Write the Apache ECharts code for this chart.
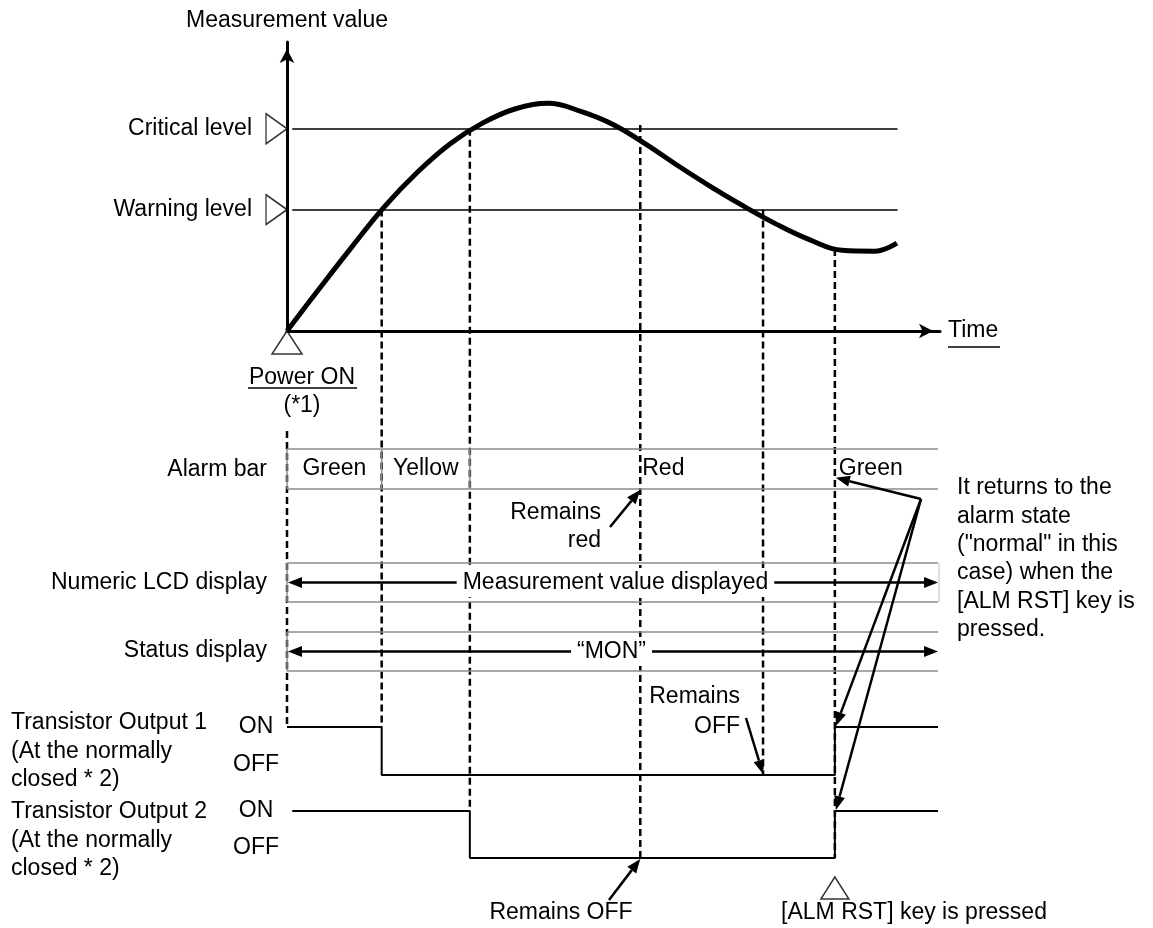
<!DOCTYPE html>
<html>
<head>
<meta charset="utf-8">
<script src="https://cdn.jsdelivr.net/npm/echarts@6/dist/echarts.min.js"></script>
<style>
    html, body { margin: 0; padding: 0; background: #fff; }
    #chart { width: 1153px; height: 928px; }
</style>
</head>
<body>
<div id="chart"></div>
<script>
var FONT = '"Liberation Sans", Arial, sans-serif';
var FS = 23;
var GRAY = '#8c8c8c';

// measurement curve, time 0..100 / value 0..100
var curveTime = [0, 5, 10, 15, 20, 25, 30, 35, 40, 45, 50, 55, 60, 65, 70, 75, 80, 85, 90, 93.4];
var curveValue = [0, 14.8, 29.3, 43.2, 55.0, 64.8, 72.0, 76.9, 78.8, 76.0, 71.4, 64.6, 57.0, 49.8, 43.1, 36.9, 31.6, 27.9, 27.6, 30.4];

var levelNames = ['Critical level', 'Warning level'];
var levelValues = [70, 42];
var levelSpan = [0.8, 93.5];

// power on, warning, critical, remains red, below warning, ALM RST
var eventTimes = [0, 14.5, 28, 54.1, 72.9, 83.9];
var endTime = 99.7;

var alarmNames = ['Green', 'Yellow', 'Red', 'Green'];
var alarmStart = [0, 14.5, 28, 83.9];
var alarmEnd = [14.5, 28, 83.9, 99.7];
var alarmLabelAt = [7.25, 21.25, 54.4, 84.5];
var alarmLabelAlign = ['center', 'center', 'left', 'left'];
var alarmSep = [1, 1, 1, 0];

var rowTexts = ['Measurement value displayed', '\u201CMON\u201D'];
var rowTextAt = [50.3, 49.7];

// transistor outputs, 1 = ON, 0 = OFF
var t1Time = [0, 14.5, 83.9, 99.7];
var t1State = [1, 0, 1, 1];
var t2Time = [0.8, 28, 83.9, 99.7];
var t2State = [1, 0, 1, 1];

function zip(a, b) {
    return a.map(function (v, i) { return [v, b[i]]; });
}

var chart = echarts.init(document.getElementById('chart'));

var grids = [
    { left: 287, top: 42, width: 653, height: 289 },
    { left: 287, top: 449, width: 653, height: 40 },
    { left: 287, top: 563, width: 653, height: 39 },
    { left: 287, top: 632, width: 653, height: 39 },
    { left: 287, top: 727, width: 653, height: 48 },
    { left: 287, top: 811, width: 653, height: 47 }
];

var xAxes = grids.map(function (g, i) {
    return { gridIndex: i, type: 'value', min: 0, max: 100, show: false };
});
xAxes[0] = {
    gridIndex: 0, type: 'value', min: 0, max: 100,
    name: 'Time', nameLocation: 'end', nameGap: 8,
    nameTextStyle: { color: '#000', fontSize: FS, fontFamily: FONT, padding: [10, 0, 0, 0] },
    axisLine: { show: true, lineStyle: { color: '#000', width: 3 }, symbol: ['none', 'arrow'], symbolSize: [11, 14], symbolOffset: [0, -7] },
    axisTick: { show: false }, axisLabel: { show: false }, splitLine: { show: false }
};

var yAxes = grids.map(function (g, i) {
    return { gridIndex: i, type: 'value', min: 0, max: 1, show: false };
});
yAxes[0] = {
    gridIndex: 0, type: 'value', min: 0, max: 100,
    name: 'Measurement value', nameLocation: 'end', nameGap: 10,
    nameTextStyle: { color: '#000', fontSize: FS, fontFamily: FONT },
    axisLine: { show: true, lineStyle: { color: '#000', width: 3 }, symbol: ['none', 'arrow'], symbolSize: [11, 14], symbolOffset: [0, -7] },
    axisTick: { show: false }, splitLine: { show: false },
    axisLabel: {
        customValues: levelValues, margin: 35, color: '#000', fontSize: FS, fontFamily: FONT,
        formatter: function (v) { return levelNames[levelValues.indexOf(v)]; }
    }
};
[4, 5].forEach(function (i) {
    yAxes[i] = {
        gridIndex: i, type: 'value', min: 0, max: 1,
        axisLine: { show: false }, axisTick: { show: false }, splitLine: { show: false },
        axisLabel: {
            customValues: [0, 1], margin: 31, align: 'center', color: '#000', fontSize: FS, fontFamily: FONT,
            formatter: function (v) { return v === 1 ? 'ON' : '{off|OFF}'; },
            rich: { off: { fontSize: FS, fontFamily: FONT, color: '#000', padding: [0, 0, 20, 0] } }
        }
    };
});

function lineEl(x1, y1, x2, y2, color, w) {
    return { type: 'line', shape: { x1: x1, y1: y1, x2: x2, y2: y2 }, style: { stroke: color, lineWidth: w } };
}

function headEl(x, y, dir) {
    // dir -1 points left, 1 points right
    return {
        type: 'polygon',
        shape: { points: [[x, y], [x - dir * 14, y - 5.5], [x - dir * 14, y + 5.5]] },
        style: { fill: '#000' }
    };
}

function renderAlarm(params, api) {
    var i = params.dataIndex;
    var a = api.coord([api.value(0), 1]);
    var b = api.coord([api.value(1), 0]);
    var l = api.coord([api.value(2), 0.5]);
    var kids = [
        lineEl(a[0], a[1], b[0], a[1], GRAY, 1.5),
        lineEl(a[0], b[1], b[0], b[1], GRAY, 1.5),
        {
            type: 'text', x: l[0], y: l[1], z2: 5,
            style: { text: alarmNames[i], align: alarmLabelAlign[i], verticalAlign: 'middle', font: FS + 'px ' + FONT, fill: '#000' }
        }
    ];
    if (alarmSep[i]) kids.push(lineEl(a[0], a[1], a[0], b[1], GRAY, 1.5));
    return { type: 'group', children: kids };
}

function renderRow(params, api) {
    var i = api.value(3);
    var a = api.coord([api.value(0), 1]);
    var b = api.coord([api.value(1), 0]);
    var m = api.coord([api.value(2), 0.5]);
    var kids = [
        lineEl(a[0], a[1], b[0], a[1], GRAY, 1.5),
        lineEl(a[0], b[1], b[0], b[1], GRAY, 1.5),
        lineEl(a[0], a[1], a[0], b[1], GRAY, 1.5),
        lineEl(a[0] + 8, m[1], b[0] - 8, m[1], '#000', 2.5),
        headEl(a[0] + 1, m[1], -1),
        headEl(b[0], m[1], 1),
        {
            type: 'text', x: m[0], y: m[1], z2: 5,
            style: {
                text: rowTexts[i], align: 'center', verticalAlign: 'middle', font: FS + 'px ' + FONT,
                fill: '#000', backgroundColor: '#fff', padding: [3, 6]
            }
        }
    ];
    if (i === 0) kids.push(lineEl(b[0] + 1, a[1], b[0] + 1, b[1], '#d4d4d4', 1.5));
    return { type: 'group', children: kids };
}

var hollow = { color: '#fff', borderColor: '#000', borderWidth: 1.5 };

var option = {
    animation: false,
    grid: grids,
    xAxis: xAxes,
    yAxis: yAxes,
    series: [
        {
            type: 'line', xAxisIndex: 0, yAxisIndex: 0, z: 4,
            data: zip(curveTime, curveValue),
            smooth: 0.4, symbol: 'none',
            lineStyle: { color: '#000', width: 5 },
            markLine: {
                silent: true, symbol: 'none', label: { show: false },
                lineStyle: { color: '#000', width: 1.5, type: 'solid' },
                data: levelValues.map(function (v) {
                    return [{ coord: [levelSpan[0], v] }, { coord: [levelSpan[1], v] }];
                })
            }
        },
        {
            type: 'scatter', xAxisIndex: 0, yAxisIndex: 0, clip: false, silent: true,
            data: levelValues.map(function (v) { return [0, v]; }),
            symbol: 'triangle', symbolSize: [30, 21], symbolRotate: -90, symbolOffset: [-10.5, 0],
            itemStyle: hollow
        },
        {
            type: 'scatter', xAxisIndex: 0, yAxisIndex: 0, clip: false, silent: true,
            data: [[eventTimes[0], 0]],
            symbol: 'triangle', symbolSize: [30, 23], symbolOffset: [0, 11.5],
            itemStyle: hollow
        },
        {
            type: 'custom', xAxisIndex: 1, yAxisIndex: 1, z: 6,
            data: alarmStart.map(function (s, i) { return [s, alarmEnd[i], alarmLabelAt[i], alarmSep[i]]; }),
            encode: { x: [0, 1, 2], y: 3 },
            renderItem: renderAlarm
        },
        {
            type: 'custom', xAxisIndex: 2, yAxisIndex: 2, z: 6,
            data: [[eventTimes[0], endTime, rowTextAt[0], 0]],
            encode: { x: [0, 1, 2], y: 3 },
            renderItem: renderRow
        },
        {
            type: 'custom', xAxisIndex: 3, yAxisIndex: 3, z: 6,
            data: [[eventTimes[0], endTime, rowTextAt[1], 1]],
            encode: { x: [0, 1, 2], y: 3 },
            renderItem: renderRow
        },
        {
            type: 'line', xAxisIndex: 4, yAxisIndex: 4, step: 'end', symbol: 'none',
            data: zip(t1Time, t1State), lineStyle: { color: '#000', width: 2 }
        },
        {
            type: 'line', xAxisIndex: 5, yAxisIndex: 5, step: 'end', symbol: 'none',
            data: zip(t2Time, t2State), lineStyle: { color: '#000', width: 2 }
        },
        {
            type: 'scatter', xAxisIndex: 5, yAxisIndex: 5, clip: false, silent: true,
            data: [[eventTimes[5], 0]],
            symbol: 'triangle', symbolSize: [28, 22], symbolOffset: [0, 30],
            itemStyle: hollow
        }
    ]
};
chart.setOption(option);

// overlay: dashed event lines, call-out arrows and free text, placed via the axes
function P(g, t, v) {
    return chart.convertToPixel({ gridIndex: g }, [t, v]);
}

function arrow(x1, y1, x2, y2) {
    var ang = Math.atan2(y2 - y1, x2 - x1), L = 14, W = 5.5;
    var bx = x2 - L * Math.cos(ang), by = y2 - L * Math.sin(ang);
    var nx = -Math.sin(ang) * W, ny = Math.cos(ang) * W;
    return [
        { type: 'line', z: 20, shape: { x1: x1, y1: y1, x2: bx, y2: by }, style: { stroke: '#000', lineWidth: 2.5 } },
        { type: 'polygon', z: 20, shape: { points: [[x2, y2], [bx + nx, by + ny], [bx - nx, by - ny]] }, style: { fill: '#000' } }
    ];
}

var dashFrom = [[1, 1.45], [0, levelValues[1]], [0, levelValues[0]], [0, 71.3], [0, levelValues[1]], [0, 28.4]];
var dashTo = [[4, 1], [4, 1], [5, 1], [5, 0], [4, 0], [5, 0]];

var els = [];
eventTimes.forEach(function (t, i) {
    var a = P(dashFrom[i][0], t, dashFrom[i][1]);
    var b = P(dashTo[i][0], t, dashTo[i][1]);
    els.push({
        type: 'line', z: 1, shape: { x1: a[0], y1: a[1], x2: b[0], y2: b[1] },
        style: { stroke: '#000', lineWidth: 2.5, lineDash: [7, 4] }
    });
});

var redTip = P(1, eventTimes[3], 0);
var off1Tip = P(4, eventTimes[4], 0);
var off2Tip = P(5, eventTimes[3], 0);
var rstBar = P(1, eventTimes[5], 0.28);
var rst1 = P(4, eventTimes[5], 1);
var rst2 = P(5, eventTimes[5], 1);
els = els.concat(arrow(610, 527, redTip[0], redTip[1] + 1));
els = els.concat(arrow(746, 718, off1Tip[0], off1Tip[1] - 1));
els = els.concat(arrow(609, 900, off2Tip[0], off2Tip[1] + 1));
els = els.concat(arrow(921, 499, rstBar[0] + 1, rstBar[1]));
els = els.concat(arrow(921, 499, rst1[0] + 1, rst1[1] - 1));
els = els.concat(arrow(921, 499, rst2[0] + 1, rst2[1] - 1));

var texts = [
    ['Alarm bar', 267, 470, 'right'],
    ['Numeric LCD display', 267, 583, 'right'],
    ['Status display', 267, 651, 'right'],
    ['Transistor Output 1', 11, 723, 'left'],
    ['(At the normally', 11, 752, 'left'],
    ['closed * 2)', 11, 780, 'left'],
    ['Transistor Output 2', 11, 812, 'left'],
    ['(At the normally', 11, 841, 'left'],
    ['closed * 2)', 11, 869, 'left'],
    ['Power ON', 302, 378, 'center'],
    ['(*1)', 302, 406, 'center'],
    ['Remains', 601, 513, 'right'],
    ['red', 601, 541, 'right'],
    ['Remains', 740, 697, 'right'],
    ['OFF', 740, 727, 'right'],
    ['Remains OFF', 561, 913, 'center'],
    ['[ALM RST] key is pressed', 914, 913, 'center'],
    ['It returns to the', 957, 488, 'left'],
    ['alarm state', 957, 517, 'left'],
    ['("normal" in this', 957, 545, 'left'],
    ['case) when the', 957, 573, 'left'],
    ['[ALM RST] key is', 957, 602, 'left'],
    ['pressed.', 957, 630, 'left']
];
texts.forEach(function (t) {
    els.push({
        type: 'text', z: 20, x: t[1], y: t[2],
        style: { text: t[0], align: t[3], verticalAlign: 'middle', font: FS + 'px ' + FONT, fill: '#000' }
    });
});

// underlines
els.push({ type: 'line', z: 20, shape: { x1: 948, y1: 347, x2: 1000, y2: 347 }, style: { stroke: '#000', lineWidth: 1.5 } });
els.push({ type: 'line', z: 20, shape: { x1: 248, y1: 388, x2: 357, y2: 388 }, style: { stroke: '#000', lineWidth: 1.5 } });

chart.setOption({ graphic: { elements: els } });
</script>
</body>
</html>
